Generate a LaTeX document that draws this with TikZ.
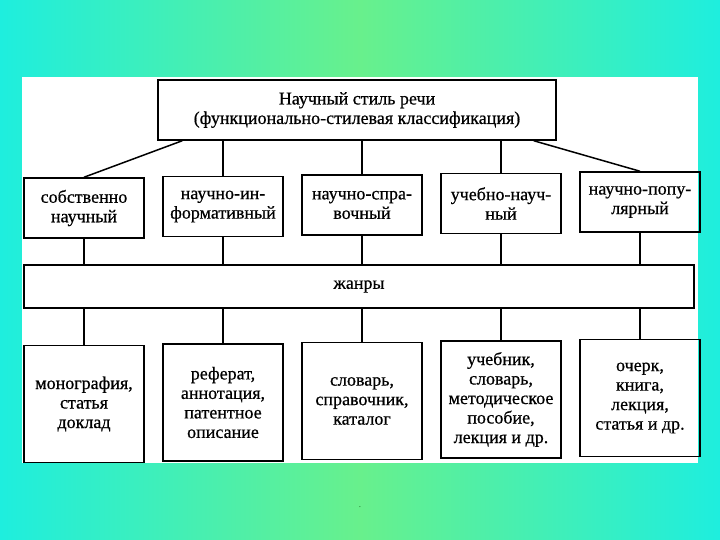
\documentclass[tikz,border=0pt]{standalone}
\usepackage{fontspec}
\setmainfont{Liberation Serif}
\newfontfamily\scanfont{Liberation Serif}[FakeBold=0.6]
\usetikzlibrary{positioning}

\definecolor{bgcyan}{RGB}{30,238,222}
\definecolor{bggreen}{RGB}{104,240,140}
\definecolor{dotgreen}{RGB}{30,110,40}

\begin{document}
\begin{tikzpicture}[x=1pt, y=1pt, node distance=17.5pt, line width=1.5pt,
    box/.style={draw, align=center, minimum width=120pt, minimum height=60pt,
      inner sep=2pt, font=\scanfont\fontsize{18}{19.5}\selectfont},
    tall/.style={box, minimum height=117pt}]
  \shade[left color=bgcyan, right color=bgcyan, middle color=bggreen] (0,0) rectangle (720,-540);
  \fill[white] (22,-77) rectangle (698,-463);
  \node[box, minimum width=398pt] (top) at (357,-110) {Научный стиль речи\\(функционально-стилевая классификация)};
  \node[box] (s1) at (84,-208) {собственно\\научный};
  \node[box] (s2) [right=of s1, yshift=1.5pt] {научно-ин-\\формативный};
  \node[box] (s3) [right=of s2, yshift=1.5pt] {научно-спра-\\вочный};
  \node[box] (s4) [right=of s3, yshift=1.5pt] {учебно-науч-\\ный};
  \node[box] (s5) [right=of s4, yshift=1.5pt] {научно-попу-\\лярный};
  \node[box, minimum width=670pt, minimum height=43pt] (zh) at (359,-286.5) {жанры};
  \node[tall] (g1) [below=106pt of s1] {монография,\\статья\\доклад};
  \node[tall] (g2) [below=106pt of s2] {реферат,\\аннотация,\\патентное\\описание};
  \node[tall] (g3) [below=106pt of s3] {словарь,\\справочник,\\каталог};
  \node[tall] (g4) [below=106pt of s4] {учебник,\\словарь,\\методическое\\пособие,\\лекция и др.};
  \node[tall] (g5) [below=106pt of s5] {очерк,\\книга,\\лекция,\\статья и др.};
  \node[text=dotgreen, font=\small] (pt) at (360,-507) {.};
  \path[draw]
    (s1.north) edge ([xshift=25pt]top.south west)
    (s2) edge (s2 |- top.south)
    (s3) edge (s3 |- top.south)
    (s4) edge (s4 |- top.south)
    (s5.north) edge ([xshift=-23pt]top.south east)
    (s1) edge (s1 |- zh.north)
    (s2) edge (s2 |- zh.north)
    (s3) edge (s3 |- zh.north)
    (s4) edge (s4 |- zh.north)
    (s5) edge (s5 |- zh.north)
    (g1) edge (g1 |- zh.south)
    (g2) edge (g2 |- zh.south)
    (g3) edge (g3 |- zh.south)
    (g4) edge (g4 |- zh.south)
    (g5) edge (g5 |- zh.south);
\end{tikzpicture}
\end{document}
